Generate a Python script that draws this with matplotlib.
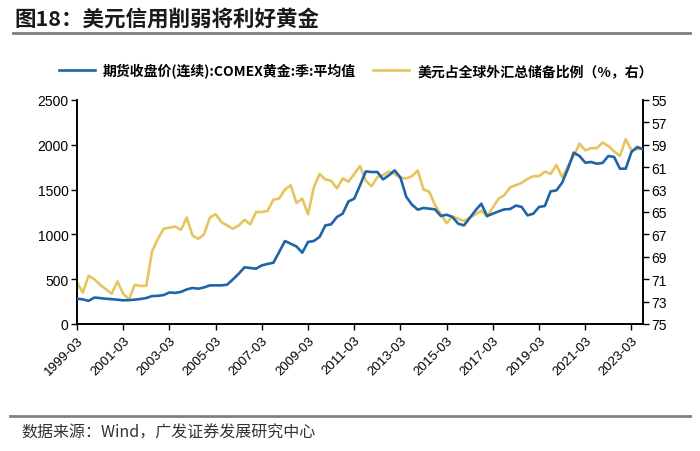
import matplotlib.pyplot as plt
import pandas as pd

plt.rcParams['font.family'] = ['Liberation Sans', 'Noto Sans CJK SC', 'DejaVu Sans']

# --- data (quarterly, 1999-03 .. 2023-09) ---
quarters = [str(p.end_time.date())[:7] for p in pd.period_range('1999Q1', '2023Q3', freq='Q')]

gold = [282, 275, 258, 295, 289, 282, 277, 271, 264, 266, 272, 279, 290, 312, 314, 323, 352, 347, 358, 386,
        402, 394, 408, 431, 431, 431, 439, 498, 561, 632, 625, 617, 654, 670, 684, 803, 926, 896, 865,
        796, 915, 926, 971, 1100, 1112, 1194, 1231, 1368, 1398, 1547, 1703, 1696, 1696, 1614, 1659, 1714, 1635, 1420,
        1331, 1276, 1295, 1287, 1279, 1205, 1220, 1194, 1119, 1100, 1183, 1268, 1342, 1205, 1231, 1257, 1279, 1283, 1322,
        1306, 1212, 1231, 1306, 1317, 1480, 1491, 1577, 1733, 1912, 1875, 1800, 1808, 1789, 1797, 1875, 1864, 1733, 1733,
        1920, 1975, 1949]

usd_share = [71.3, 72.2, 70.7, 71.0, 71.5, 71.9, 72.3, 71.2, 72.3, 72.8, 71.5, 71.6, 71.6, 68.5, 67.4, 66.5, 66.4, 66.3, 66.6, 65.5,
             67.1, 67.4, 67.0, 65.5, 65.2, 65.9, 66.2, 66.5, 66.2, 65.7, 66.1, 65.0, 65.0, 64.9, 63.9, 63.8, 63.0, 62.6, 64.2,
             63.8, 65.2, 62.8, 61.6, 62.1, 62.2, 62.9, 62.0, 62.3, 61.6, 60.9, 62.2, 62.7, 61.9, 61.7, 61.4, 61.6, 61.95, 62.0,
             61.8, 61.3, 63.0, 63.2, 64.4, 65.2, 66.0, 65.4, 65.6, 65.8, 65.5, 65.2, 64.9, 65.4, 64.6, 63.8, 63.5, 62.8, 62.6,
             62.4, 62.05, 61.8, 61.8, 61.4, 61.6, 60.8, 61.9, 60.9, 60.0, 58.9, 59.5, 59.3, 59.3, 58.8, 59.1, 59.6, 60.0, 58.5,
             59.5, 59.4, 59.3]

tick_labels = ['1999-03', '2001-03', '2003-03', '2005-03', '2007-03', '2009-03', '2011-03',
               '2013-03', '2015-03', '2017-03', '2019-03', '2021-03', '2023-03']
left_ticks = [0, 500, 1000, 1500, 2000, 2500]
right_ticks = [55, 57, 59, 61, 63, 65, 67, 69, 71, 73, 75]

label_gold = '期货收盘价(连续):COMEX黄金:季:平均值'
label_usd = '美元占全球外汇总储备比例（%，右）'

BLUE = '#1f64a8'
YELLOW = '#e6c55e'
cjk = ['Noto Sans CJK SC', 'DejaVu Sans']

fig = plt.figure(figsize=(7.0, 4.52), dpi=100)
ax = fig.add_axes([0.110, 0.281, 0.8086, 0.4956])
ax2 = ax.twinx()

x = list(range(len(quarters)))
l1, = ax.plot(x, gold, color=BLUE, lw=1.9, label=label_gold, zorder=3)
l2, = ax2.plot(x, usd_share, color=YELLOW, lw=1.9, label=label_usd, zorder=2)
ax.set_zorder(ax2.get_zorder() + 1)
ax.patch.set_visible(False)

ax.set_xlim(0, 98)
ax.set_ylim(0, 2500)
ax.set_yticks(left_ticks)
ax2.set_ylim(75, 55)
ax2.set_yticks(right_ticks)

ax.set_xticks([quarters.index(t) for t in tick_labels])
ax.set_xticklabels(tick_labels, rotation=45, ha='right', rotation_mode='anchor', fontsize=9.5)
ax.tick_params(axis='y', labelsize=10, direction='out', length=4, width=1, pad=2)
ax.tick_params(axis='x', direction='out', length=4, width=1, pad=3)
ax2.tick_params(axis='y', labelsize=10, direction='out', length=4, width=1, pad=2)

for a in (ax, ax2):
    a.spines['top'].set_visible(False)
    for s in ('left', 'right', 'bottom'):
        a.spines[s].set_linewidth(1.2)
        a.spines[s].set_color('black')

leg = fig.legend([l1, l2], [label_gold, label_usd], loc='center', bbox_to_anchor=(0.508, 0.842),
                 ncol=2, frameon=False, prop={'family': cjk, 'weight': 'bold', 'size': 10},
                 handlelength=2.6, columnspacing=1.2, handletextpad=0.6)

# header / footer
fig.text(0.021, 0.958, '图18：美元信用削弱将利好黄金', family=cjk, weight='bold', fontsize=15.5,
         color='#1a1a1a', va='center', ha='left')
fig.add_artist(plt.Line2D([0.018, 0.986], [0.925, 0.925], color='#7f7f7f', lw=2))
fig.add_artist(plt.Line2D([0.014, 0.986], [0.077, 0.077], color='#7f7f7f', lw=2))
fig.text(0.031, 0.042, '数据来源：Wind，广发证券发展研究中心', family=cjk, fontsize=11.5,
         color='#333333', va='center', ha='left')

fig.savefig('out.png', dpi=100)
